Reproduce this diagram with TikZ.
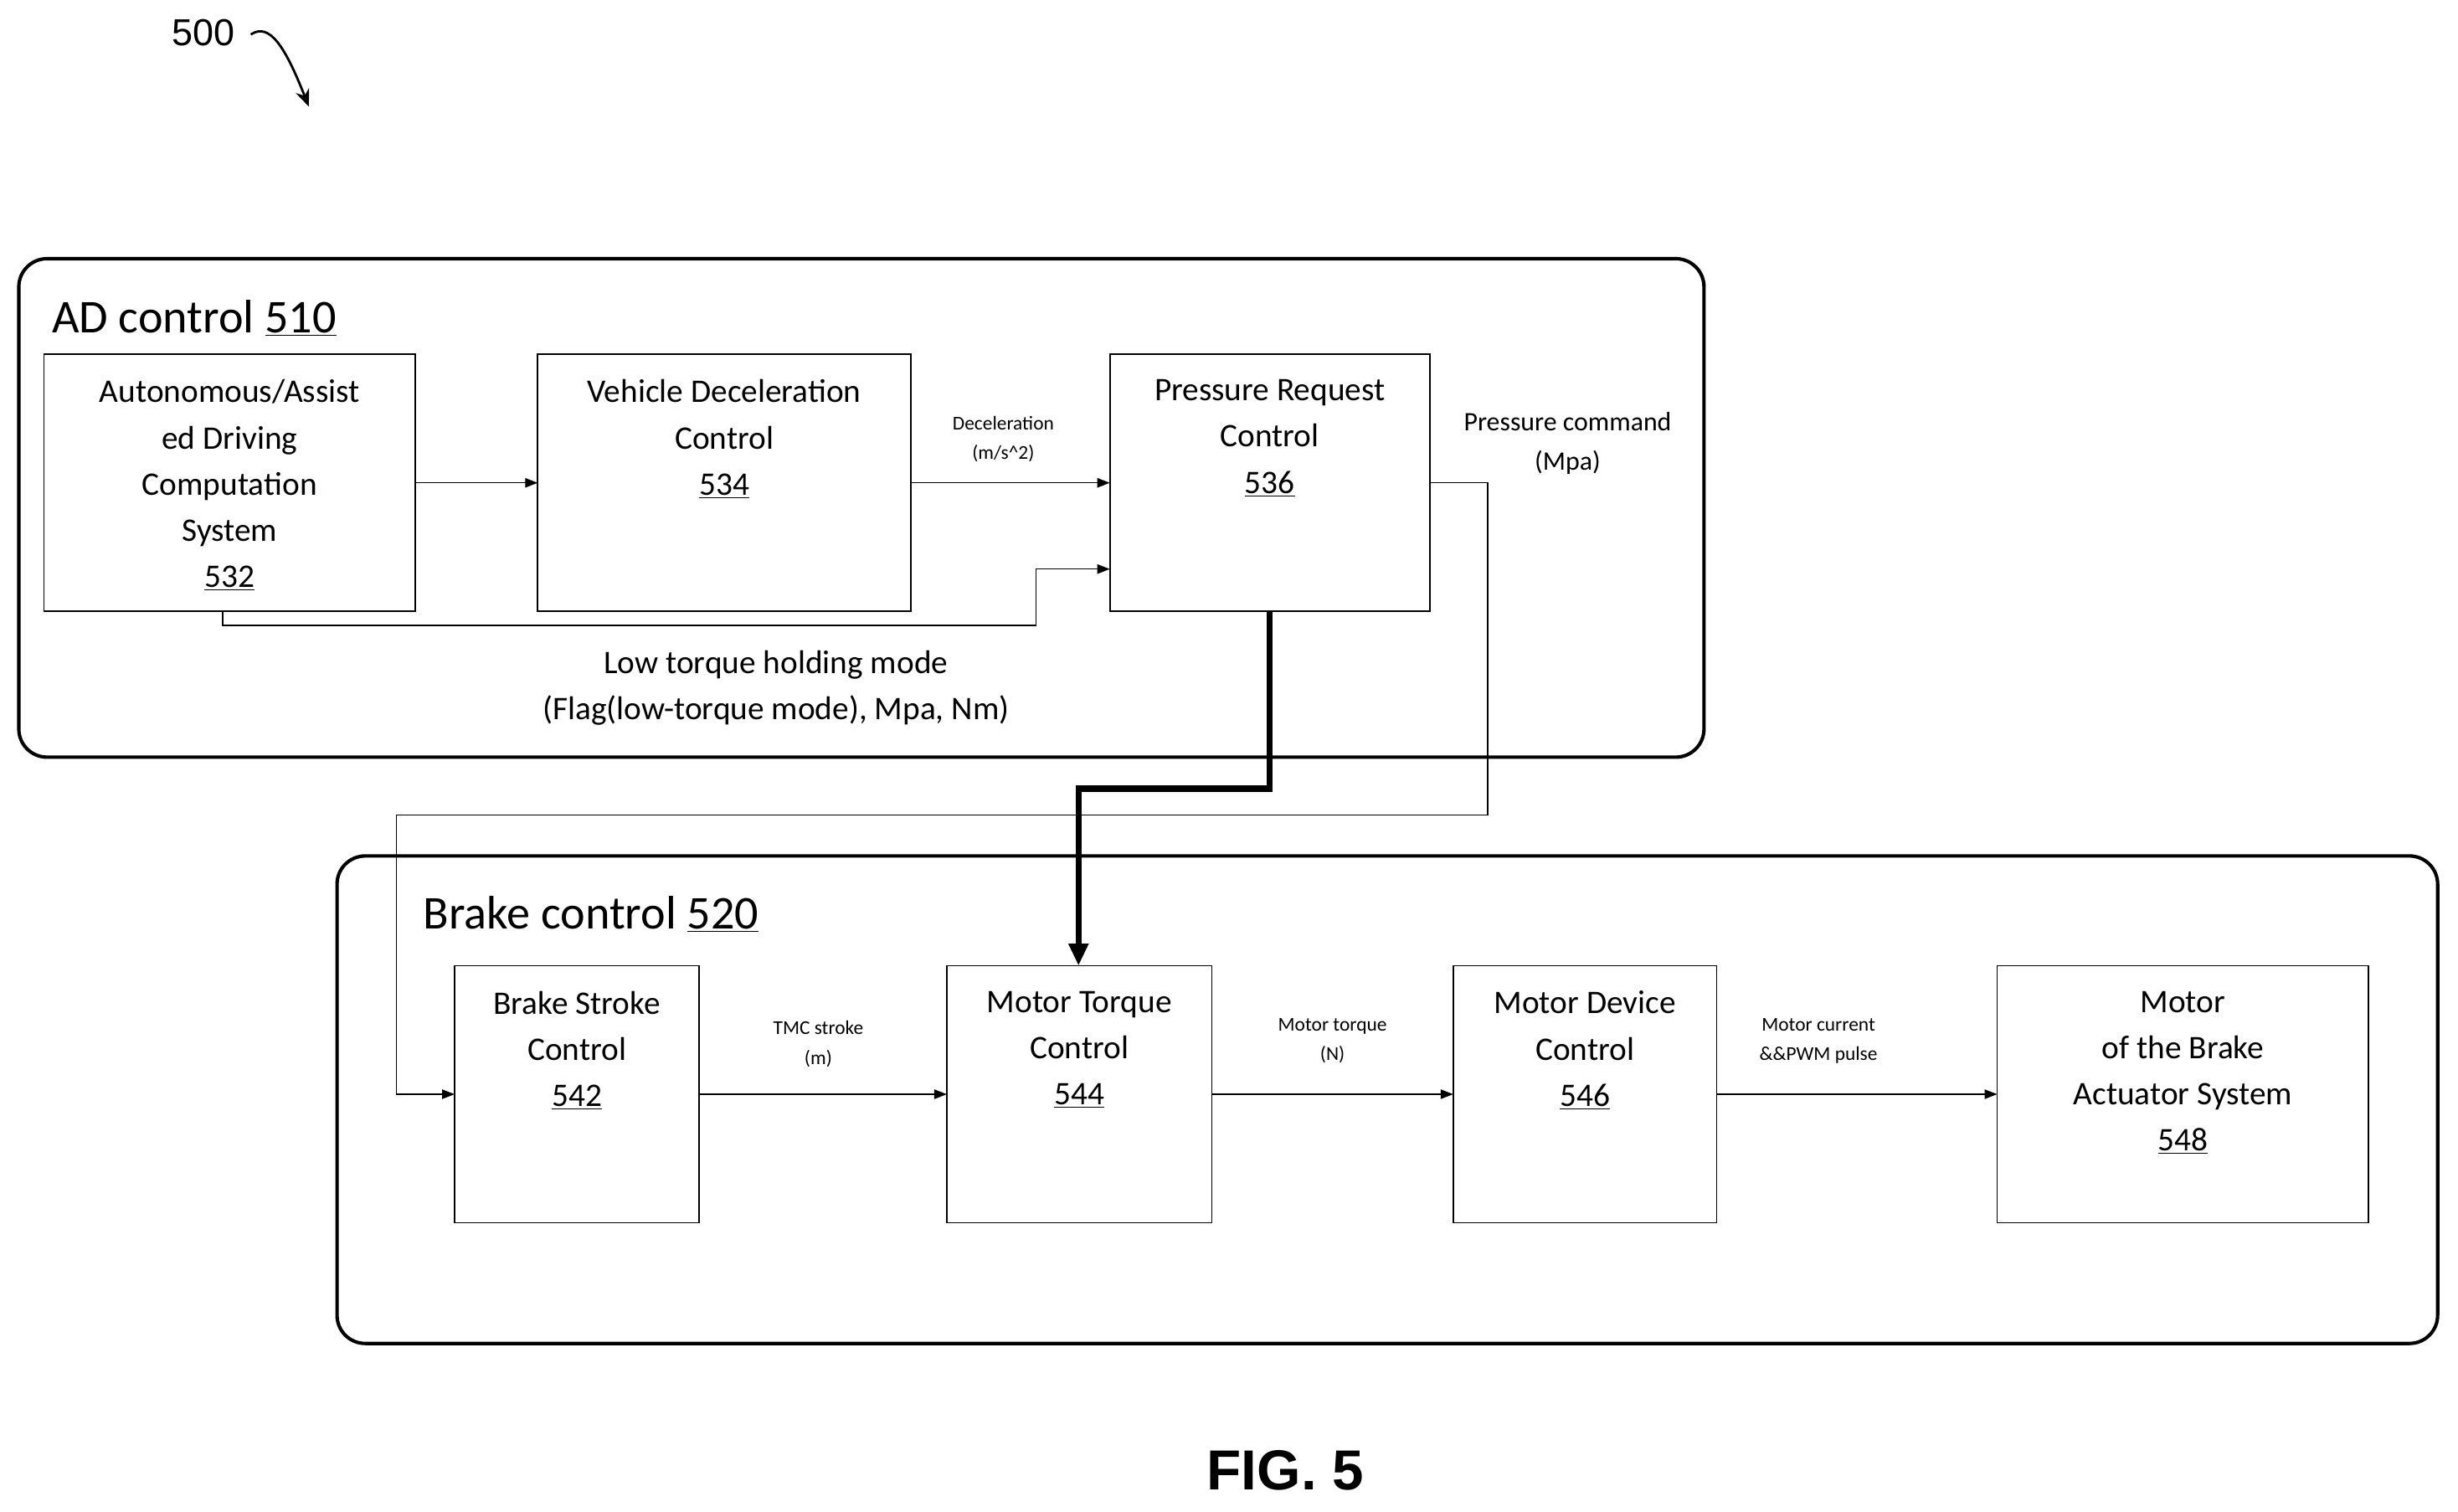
\documentclass[tikz,border=0pt]{standalone}
\usepackage{fontspec}
\setmainfont{Carlito}
\newfontfamily\arialf{Liberation Sans}
\usetikzlibrary{arrows.meta}
\begin{document}
\begin{tikzpicture}[x=1pt,y=-1pt,
  cont/.style={draw,line width=2.2pt,rounded corners=18pt},
  blk/.style={draw,line width=0.9pt},
  btxt/.style={align=center,anchor=north,font=\fontsize{21}{29.5}\selectfont,inner sep=0},
  lbl/.style={align=center,font=\fontsize{12.5}{19}\selectfont,inner sep=0},
  con/.style={line width=0.8pt,-{Triangle[length=8pt,width=6pt]}}]
\useasboundingbox (0,0) rectangle (1568,964);
\draw[cont] (12,165) rectangle (1087,483);
\draw[cont] (215,546) rectangle (1555,857);
\node[anchor=west,font=\fontsize{30}{32}\selectfont,inner sep=0] (t510) at (33,203) {AD control \underline{510}};
\node[anchor=west,font=\fontsize{30}{32}\selectfont,inner sep=0] (t520) at (270,583) {Brake control \underline{520}};
% boxes
\draw[blk] (28,226) rectangle (265,390);
\node[btxt] (x532) at (146.5,242) {Autonomous/Assist\\ed Driving\\Computation\\System\\\underline{532}};
\draw[blk] (343,226) rectangle (581,390);
\node[btxt] (x534) at (462,242) {Vehicle Deceleration\\Control\\\underline{534}};
\draw[blk] (708,226) rectangle (912,390);
\node[btxt] (x536) at (810,242) {Pressure Request\\Control\\\underline{536}};
\draw[blk] (290,616) rectangle (446,780);
\node[btxt] (x542) at (368,632) {Brake Stroke\\Control\\\underline{542}};
\draw[blk] (604,616) rectangle (773,780);
\node[btxt] (x544) at (688.5,632) {Motor Torque\\Control\\\underline{544}};
\draw[blk] (927,616) rectangle (1095,780);
\node[btxt] (x546) at (1011,632) {Motor Device\\Control\\\underline{546}};
\draw[blk] (1274,616) rectangle (1511,780);
\node[btxt] (x548) at (1392.5,632) {Motor\\of the Brake\\Actuator System\\\underline{548}};
% coordinates
\coordinate (a1) at (265,308); \coordinate (a2) at (343,308);
\coordinate (a3) at (581,308); \coordinate (a4) at (708,308);
\draw[con] (a1) -- (a2);
\draw[con] (a3) -- (a4);
\node[lbl] (l1) at (640,280) {Deceleration\\(m/s\textasciicircum2)};
\coordinate (lt0) at (142,390); \coordinate (lt1) at (708,363);
\draw[con] (lt0) |- (661,399) |- (lt1);
\node[font=\fontsize{21}{29.5}\selectfont,align=center,inner sep=0] (l2) at (495,439) {Low torque holding mode\\(Flag(low-torque mode), Mpa, Nm)};
\coordinate (pc0) at (912,308); \coordinate (pc1) at (290,698);
\draw[con] (pc0) -- (949,308) -- (949,520) -- (253,520) |- (pc1);
\node[lbl,font=\fontsize{17}{25}\selectfont] (l3) at (1000,283) {Pressure command\\(Mpa)};
\coordinate (th0) at (810,390); \coordinate (th1) at (688,616);
\draw[line width=4pt,-{Triangle[length=14pt,width=12pt]}] (th0) -- (810,503) -- (688,503) -- (th1);
\coordinate (c1) at (446,698); \coordinate (c2) at (604,698);
\coordinate (c3) at (773,698); \coordinate (c4) at (927,698);
\coordinate (c5) at (1095,698); \coordinate (c6) at (1274,698);
\draw[con] (c1) -- (c2); \draw[con] (c3) -- (c4); \draw[con] (c5) -- (c6);
\node[lbl] (l4) at (522,666) {TMC stroke\\(m)};
\node[lbl] (l5) at (850,664) {Motor torque\\(N)};
\node[lbl] (l6) at (1160,664) {Motor current\\\&\&PWM pulse};
% 500
\node[font=\arialf\fontsize{24}{26}\selectfont,inner sep=0] (n500) at (130,21) {500};
\coordinate (r0) at (160,22); \coordinate (r1) at (197,68);
\draw[line width=1.5pt,-{Stealth[length=11pt,width=9pt]}] (r0) .. controls (172,14) and (182,30) .. (r1);
\node[font=\arialf\bfseries\fontsize{36}{40}\selectfont,inner sep=0] (fig) at (820,938) {FIG. 5};
\end{tikzpicture}
\end{document}
